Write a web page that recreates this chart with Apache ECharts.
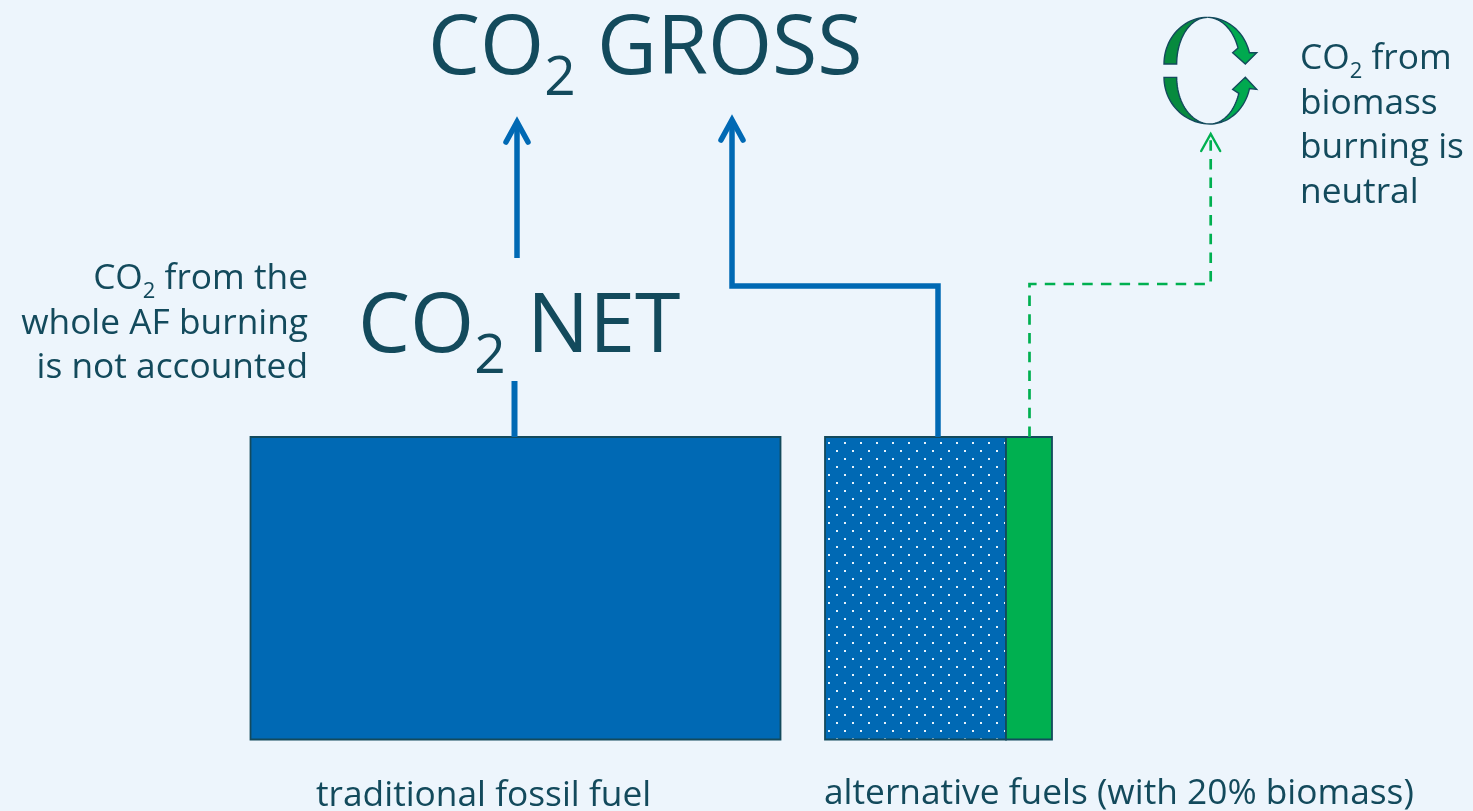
<!DOCTYPE html>
<html><head><meta charset="utf-8">
<style>html,body{margin:0;padding:0;background:#edf5fc}#c{width:1473px;height:811px}</style>
<script src="https://cdn.jsdelivr.net/npm/echarts@6/dist/echarts.min.js"></script>
</head><body><div id="c"></div>
<script>
// Diagram values, in the units of the chart's 1473 x 811 value axes
const blockNames = ['traditional fossil fuel', 'alternative fuels (fossil part)', 'alternative fuels (biomass)'];
const blockStart = [250.5, 825, 1006];
const blockEnd = [780.5, 1006, 1052];
const blockTop = [437, 437, 437];
const blockBottom = [739.5, 739.5, 739.5];
const fossilRoute = [[514.5, 437], [514.5, 381]];
const fossilArrow = [[517, 258], [517, 122]];
const afRoute = [[938, 437], [938, 286], [732, 286], [732, 120]];
const biomassRoute = [[1029.5, 437], [1029.5, 284], [1210.7, 284], [1210.7, 135]];
const labelText = ['CO₂ GROSS', 'CO₂ NET', 'CO₂ from the', 'whole AF burning', 'is not accounted',
  'CO₂ from', 'biomass', 'burning is', 'neutral', 'traditional fossil fuel', 'alternative fuels (with 20% biomass)'];
const labelX = [428, 358, 308, 308, 308, 1300, 1300, 1300, 1300, 316, 824];
const labelY = [50, 328, 279, 323.5, 368, 59, 103.5, 148, 192.5, 796, 794];
const labelSize = [82.5, 82.5, 35.3, 35.3, 35.3, 35.3, 35.3, 35.3, 35.3, 35.3, 35.3];
const labelAlign = ['left', 'left', 'right', 'right', 'right', 'left', 'left', 'left', 'left', 'left', 'left'];

const BLUE = '#0069b4', GREEN = '#00b050', INK = '#134a5c', DARKGREEN = '#078a3e', LIGHTGREEN = '#00a94f';
const FONTNAME = '"Open Sans", "Noto Sans", sans-serif';

function dots() {
  const t = document.createElement('canvas');
  t.width = t.height = 16;
  const g = t.getContext('2d');
  g.fillStyle = BLUE; g.fillRect(0, 0, 16, 16);
  g.fillStyle = '#e6f2fb';
  g.fillRect(12, 10, 2, 2);
  g.fillRect(4, 2, 2, 2);
  return t;
}
const dotPattern = { image: dots(), repeat: 'repeat' };

function arc(cx, cy, rx, ry, a0, a1) {
  const out = [];
  for (let i = 0; i <= 24; i++) {
    const a = (a0 + (a1 - a0) * i / 24) * Math.PI / 180;
    out.push([1130 + (cx + rx * Math.cos(a)) / 3, (cy + ry * Math.sin(a)) / 3]);
  }
  return out;
}
const pt = (x, y) => [1130 + x / 3, y / 3];
const cyclePieces = [
  { fill: DARKGREEN, pts: [...arc(232, 192, 130, 140, 180, 270), ...arc(232, 192, 92, 140, 270, 180)] },
  { fill: DARKGREEN, pts: [...arc(240, 232, 138, 140, 180, 90), ...arc(240, 232, 100, 140, 90, 180)] },
  { fill: LIGHTGREEN, pts: [...arc(232, 192, 130, 140, 270, 346), pt(380, 158), pt(346, 192), pt(308, 158), ...arc(232, 192, 98, 140, 340, 270)] },
  { fill: LIGHTGREEN, pts: [...arc(240, 232, 122, 140, 90, 14), pt(380, 268), pt(346, 232), pt(308, 268), ...arc(240, 232, 92, 140, 20, 90)] }
];

const lineSeries = (data, color, width, type) => ({
  type: 'line', data, coordinateSystem: 'cartesian2d', showSymbol: false, silent: true,
  lineStyle: { color, width, type, join: 'miter', cap: 'butt' }, animation: false, z: 2
});
function headSeries(tip, dx, dy, color, width) {
  return {
    type: 'custom', data: [tip], silent: true, animation: false, z: 3,
    renderItem: (p, api) => {
      const a = api.coord([api.value(0) - dx, api.value(1) + dy]);
      const b = api.coord([api.value(0), api.value(1)]);
      const c = api.coord([api.value(0) + dx, api.value(1) + dy]);
      return { type: 'polyline', shape: { points: [a, b, c] },
        style: { stroke: color, lineWidth: width, fill: null, lineCap: 'round', lineJoin: 'miter' } };
    }
  };
}

function richLabel(i) {
  const size = labelSize[i];
  const sub = size > 60 ? 55 : 22;
  const drop = size > 60 ? 58 : 25;
  return {
    text: labelText[i].replace('CO₂', '{m|CO}{s|2}').replace(/(\}|^)([^{}]+)$/, '$1{m|$2}'),
    rich: {
      m: { fontSize: size, fontFamily: FONTNAME, fill: INK },
      s: { fontSize: sub, fontFamily: FONTNAME, fill: INK, padding: [drop, 0, 0, 0] }
    }
  };
}

const option = {
  backgroundColor: '#edf5fc',
  animation: false,
  grid: { left: 0, right: 0, top: 0, bottom: 0 },
  xAxis: { type: 'value', min: 0, max: 1473, show: false },
  yAxis: { type: 'value', min: 0, max: 811, inverse: true, show: false },
  series: [
    {
      type: 'custom', silent: true, z: 1,
      data: blockNames.map((n, i) => ({ name: n, value: [blockStart[i], blockTop[i], blockEnd[i], blockBottom[i], i] })),
      renderItem: (p, api) => {
        const a = api.coord([api.value(0), api.value(1)]);
        const b = api.coord([api.value(2), api.value(3)]);
        const i = api.value(4);
        return { type: 'rect', shape: { x: a[0], y: a[1], width: b[0] - a[0], height: b[1] - a[1] },
          style: { fill: i === 0 ? BLUE : i === 1 ? dotPattern : GREEN, stroke: INK, lineWidth: 1.8 } };
      }
    },
    lineSeries(fossilRoute, BLUE, 6, 'solid'),
    lineSeries(fossilArrow, BLUE, 5.5, 'solid'),
    lineSeries(afRoute, BLUE, 5.5, 'solid'),
    lineSeries(biomassRoute, '#00b050', 2.7, [10.5, 8.2]),
    headSeries(fossilArrow[1], 11, 20, BLUE, 5.5),
    headSeries(afRoute[3], 11, 20, BLUE, 5.5),
    headSeries([1210.7, 134], 9.5, 17, '#00b050', 2.4),
    {
      type: 'custom', silent: true, z: 4,
      data: cyclePieces.map((_, i) => [i]),
      renderItem: (p, api) => {
        const c = cyclePieces[api.value(0)];
        return { type: 'polygon', shape: { points: c.pts.map(q => api.coord(q)) },
          style: { fill: c.fill, stroke: INK, lineWidth: 1.4 } };
      }
    },
    {
      type: 'custom', silent: true, z: 5,
      data: labelText.map((t, i) => [labelX[i], labelY[i], i]),
      renderItem: (p, api) => {
        const c = api.coord([api.value(0), api.value(1)]);
        const i = api.value(2);
        const r = richLabel(i);
        return { type: 'text', x: c[0], y: c[1],
          style: { text: r.text, rich: r.rich, fill: INK, align: labelAlign[i], verticalAlign: 'middle' } };
      }
    }
  ]
};
const chart = echarts.init(document.getElementById('c'), null, { renderer: 'canvas' });
chart.setOption(option);
</script></body></html>
